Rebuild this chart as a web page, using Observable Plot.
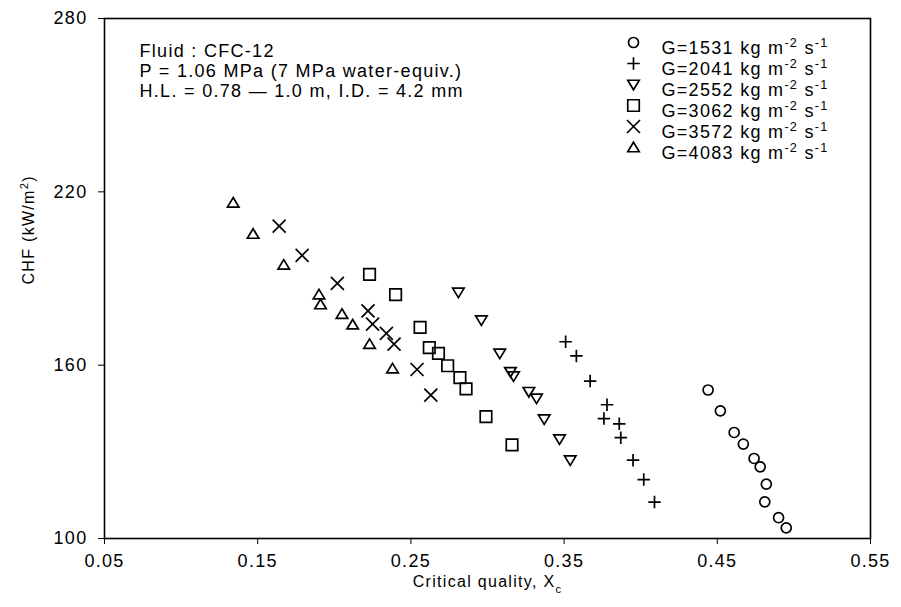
<!DOCTYPE html>
<html><head><meta charset="utf-8">
<script src="https://cdn.jsdelivr.net/npm/d3@7"></script>
<script src="https://cdn.jsdelivr.net/npm/@observablehq/plot@0.6"></script>
<style>
body{margin:0;background:#fff}
#chart svg text{letter-spacing:1.3px}
#chart svg [aria-label*="axis"] text{font-size:18px}
</style>
</head><body><div id="chart"></div>
<script>
// ---- data ----
const seriesLabels = [
  "G=1531 kg m^{-2} s^{-1}",
  "G=2041 kg m^{-2} s^{-1}",
  "G=2552 kg m^{-2} s^{-1}",
  "G=3062 kg m^{-2} s^{-1}",
  "G=3572 kg m^{-2} s^{-1}",
  "G=4083 kg m^{-2} s^{-1}"
];
const xG1531 = [0.444, 0.452, 0.461, 0.467, 0.474, 0.478, 0.482, 0.481, 0.490, 0.495];
const yG1531 = [151.4, 144.2, 136.7, 132.7, 127.7, 124.8, 118.8, 112.7, 107.2, 103.7];
const xG2041 = [0.351, 0.358, 0.367, 0.378, 0.376, 0.386, 0.387, 0.395, 0.402, 0.409];
const yG2041 = [168.1, 163.2, 154.5, 146.3, 141.5, 139.7, 134.9, 127.1, 120.4, 112.6];
const xG2552 = [0.281, 0.296, 0.308, 0.315, 0.317, 0.327, 0.332, 0.337, 0.347, 0.354];
const yG2552 = [185.2, 175.6, 164.1, 157.7, 156.2, 150.8, 148.5, 141.3, 134.4, 127.1];
const xG3062 = [0.223, 0.240, 0.256, 0.262, 0.268, 0.274, 0.282, 0.286, 0.299, 0.316];
const yG3062 = [191.4, 184.4, 173.1, 166.1, 164.1, 159.8, 155.7, 151.8, 142.2, 132.4];
const xG3572 = [0.164, 0.179, 0.202, 0.222, 0.225, 0.234, 0.239, 0.254, 0.263];
const yG3572 = [208.1, 198.0, 188.3, 178.8, 174.2, 171.0, 167.3, 158.5, 149.6];
const xG4083 = [0.134, 0.147, 0.167, 0.190, 0.191, 0.205, 0.212, 0.223, 0.238];
const yG4083 = [216.2, 205.4, 194.7, 184.4, 181.0, 177.7, 174.0, 167.3, 158.8];
const xTicks = [0.05, 0.15, 0.25, 0.35, 0.45, 0.55];
const yTicks = [100, 160, 220, 280];
const infoLines = [
  "Fluid : CFC-12",
  "P = 1.06 MPa (7 MPa water-equiv.)",
  "H.L. = 0.78 \u2014 1.0 m, I.D. = 4.2 mm"
];
const xLabel = "Critical quality, X_{c}";
const yLabel = "CHF (kW/m^{2})";

// ---- symbols ----
const sym = f => ({draw(c, size) { const r = Math.sqrt(size / Math.PI); f(c, r); }});
const symbols = [
  sym((c, r) => { c.moveTo(r, 0); c.arc(0, 0, r, 0, 2 * Math.PI); }),
  sym((c, r) => { const a = 1.25 * r; c.moveTo(-a, 0); c.lineTo(a, 0); c.moveTo(0, -a); c.lineTo(0, a); }),
  sym((c, r) => { c.moveTo(-1.15 * r, -0.85 * r); c.lineTo(1.15 * r, -0.85 * r); c.lineTo(0, 1.05 * r); c.closePath(); }),
  sym((c, r) => { const a = 1.15 * r; c.rect(-a, -a, 2 * a, 2 * a); }),
  sym((c, r) => { const a = 1.3 * r; c.moveTo(-a, -a); c.lineTo(a, a); c.moveTo(-a, a); c.lineTo(a, -a); }),
  sym((c, r) => { c.moveTo(0, -1.05 * r); c.lineTo(1.15 * r, 0.85 * r); c.lineTo(-1.15 * r, 0.85 * r); c.closePath(); })
];

const xs = [xG1531, xG2041, xG2552, xG3062, xG3572, xG4083];
const ys = [yG1531, yG2041, yG2552, yG3062, yG3572, yG4083];
const series = xs.map((xv, i) => xv.map((x, j) => ({x, y: ys[i][j]})));

const font = "'Liberation Sans', Arial, Helvetica, sans-serif";
const dotOpts = {fill: "none", stroke: "black", strokeWidth: 1.7, r: 5};

const marks = [];
series.forEach((d, i) => marks.push(Plot.dot(d, {x: "x", y: "y", symbol: symbols[i], ...dotOpts})));
// legend
seriesLabels.forEach((lab, i) => {
  marks.push(Plot.dot([lab], {frameAnchor: "top-left", dx: 529, dy: 24 + 21 * i, symbol: symbols[i], ...dotOpts}));
  marks.push(Plot.text([lab], {text: d => d, frameAnchor: "top-left", dx: 557, dy: 23 + 21 * i, textAnchor: "start", fontSize: 18, fill: "black"}));
});
// info text
infoLines.forEach((t, i) => {
  marks.push(Plot.text([t], {text: d => d, frameAnchor: "top-left", dx: 35, dy: 26 + 20 * i, textAnchor: "start", fontSize: 18, fill: "black"}));
});
// axis labels
marks.push(Plot.text([xLabel], {text: d => d, frameAnchor: "bottom", dy: 48, fontSize: 16, fill: "black"}));
marks.push(Plot.text([yLabel], {text: d => d, frameAnchor: "left", dx: -76, dy: 6, rotate: -90, fontSize: 16, fill: "black"}));
marks.push(Plot.frame({stroke: "black", strokeWidth: 1.6}));

const plot = Plot.plot({
  width: 901,
  height: 607,
  marginLeft: 104,
  marginRight: 31,
  marginTop: 18,
  marginBottom: 69,
  style: {fontFamily: font, fontSize: "18px", color: "black", background: "white"},
  x: {domain: [0.05, 0.55], ticks: xTicks, tickFormat: d3.format(".2f"), label: null, tickSize: 6, tickPadding: 10},
  y: {domain: [100, 280], ticks: yTicks, tickFormat: d3.format("d"), label: null, tickSize: 6, tickPadding: 11},
  marks
});

// rich text: ^{...} superscript, _{...} subscript
plot.querySelectorAll("text").forEach(t => {
  const s = t.textContent;
  if (!/[\^_]\{/.test(s)) return;
  while (t.firstChild) t.removeChild(t.firstChild);
  const re = /([\^_])\{([^}]*)\}/g;
  let last = 0, m;
  const ns = "http://www.w3.org/2000/svg";
  const add = (txt, kind) => {
    const ts = document.createElementNS(ns, "tspan");
    ts.textContent = txt;
    if (kind) {
      ts.setAttribute("baseline-shift", kind === "^" ? "super" : "sub");
      ts.setAttribute("font-size", "70%");
    }
    t.appendChild(ts);
  };
  while ((m = re.exec(s))) {
    if (m.index > last) add(s.slice(last, m.index));
    add(m[2], m[1]);
    last = re.lastIndex;
  }
  if (last < s.length) add(s.slice(last));
});

document.getElementById("chart").appendChild(plot);
</script>
</body></html>
